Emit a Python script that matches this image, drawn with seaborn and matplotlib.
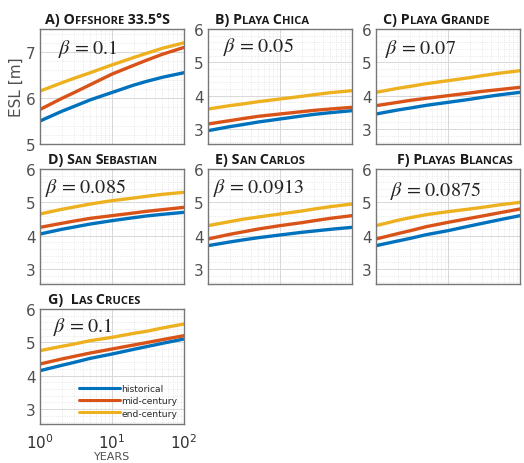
import numpy as np
import pandas as pd
import matplotlib
matplotlib.use("Agg")
import matplotlib.pyplot as plt
import seaborn as sns
from matplotlib.offsetbox import TextArea, HPacker, AnchoredOffsetbox

sns.set_style("white")
plt.rcParams['font.family'] = ['DejaVu Sans']
plt.rcParams['mathtext.fontset'] = 'stix'

years = [1, 2, 3, 5, 10, 20, 30, 50, 100]
scenarios = ["historical", "mid-century", "end-century"]
colors = ["#0072BD", "#D95319", "#EDB120"]

titles = ["A) Offshore 33.5°S", "B) Playa Chica", "C) Playa Grande",
          "D) San Sebastian", "E) San Carlos", "F) Playas Blancas",
          "G)  Las Cruces"]
betas = ["0.1", "0.05", "0.07", "0.085", "0.0913", "0.0875", "0.1"]

hist_A = [5.5, 5.71, 5.82, 5.96, 6.12, 6.28, 6.36, 6.45, 6.55]
mid_A = [5.75, 5.99, 6.12, 6.29, 6.52, 6.71, 6.82, 6.95, 7.1]
end_A = [6.15, 6.33, 6.43, 6.55, 6.72, 6.88, 6.97, 7.08, 7.2]

hist_B = [2.95, 3.07, 3.13, 3.21, 3.3, 3.39, 3.44, 3.49, 3.55]
mid_B = [3.15, 3.25, 3.31, 3.38, 3.45, 3.52, 3.56, 3.6, 3.65]
end_B = [3.6, 3.7, 3.75, 3.82, 3.9, 3.98, 4.03, 4.09, 4.15]

hist_C = [3.45, 3.57, 3.63, 3.71, 3.8, 3.89, 3.95, 4.02, 4.1]
mid_C = [3.7, 3.8, 3.86, 3.92, 4.0, 4.08, 4.13, 4.18, 4.25]
end_C = [4.1, 4.22, 4.28, 4.36, 4.45, 4.54, 4.6, 4.67, 4.75]

hist_D = [4.05, 4.19, 4.26, 4.35, 4.45, 4.54, 4.59, 4.64, 4.7]
mid_D = [4.25, 4.37, 4.44, 4.52, 4.6, 4.68, 4.73, 4.78, 4.85]
end_D = [4.65, 4.79, 4.86, 4.95, 5.05, 5.13, 5.18, 5.24, 5.3]

hist_E = [3.7, 3.81, 3.87, 3.94, 4.02, 4.1, 4.14, 4.19, 4.25]
mid_E = [3.9, 4.04, 4.11, 4.2, 4.3, 4.39, 4.45, 4.52, 4.6]
end_E = [4.3, 4.42, 4.49, 4.56, 4.65, 4.74, 4.8, 4.87, 4.95]

hist_F = [3.7, 3.84, 3.92, 4.03, 4.15, 4.29, 4.37, 4.47, 4.6]
mid_F = [3.9, 4.06, 4.15, 4.27, 4.4, 4.52, 4.59, 4.68, 4.8]
end_F = [4.3, 4.46, 4.54, 4.63, 4.72, 4.8, 4.85, 4.92, 5.0]

hist_G = [4.15, 4.31, 4.4, 4.52, 4.65, 4.79, 4.87, 4.97, 5.1]
mid_G = [4.35, 4.5, 4.58, 4.68, 4.8, 4.92, 4.99, 5.08, 5.2]
end_G = [4.75, 4.88, 4.95, 5.05, 5.15, 5.27, 5.33, 5.43, 5.55]

panels = [(hist_A, mid_A, end_A), (hist_B, mid_B, end_B), (hist_C, mid_C, end_C),
          (hist_D, mid_D, end_D), (hist_E, mid_E, end_E), (hist_F, mid_F, end_F),
          (hist_G, mid_G, end_G)]

W, H = 524, 464
fig = plt.figure(figsize=(W / 100, H / 100), dpi=100)

lefts = [40, 208, 376]
tops = [30, 170, 310]
aw, ah = 144, 115
title_dx = [5, 7, 7, 8, 7, 21, 8]
beta_dx = [18, 15, 9, 5, 5, 14, 13]
beta_dy = [8, 6, 8, 7, 7, 10, 6]

gray = "#505050"
TFONT = "Open Sans"


def smallcaps_box(s, big=10.3, small=8.0):
    parts = []
    cur, cur_low = "", None
    for ch in s:
        low = ch.islower()
        if cur_low is None or low == cur_low:
            cur += ch
        else:
            parts.append((cur, cur_low))
            cur = ch
        cur_low = low
    parts.append((cur, cur_low))
    boxes = []
    for txt, low in parts:
        boxes.append(TextArea(txt.upper(), textprops=dict(
            fontsize=small if low else big, fontweight="bold",
            family=TFONT, color="#1a1a1a")))
    return HPacker(children=boxes, align="baseline", pad=0, sep=0)


for i, (series, title, beta) in enumerate(zip(panels, titles, betas)):
    r, c = divmod(i, 3)
    l, t = lefts[c], tops[r]
    ax = fig.add_axes([l / W, 1 - (t + ah) / H, aw / W, ah / H])
    rows = []
    for name, vals in zip(scenarios, series):
        for x, v in zip(years, vals):
            rows.append({"year": x, "ESL": v, "scenario": name})
    df = pd.DataFrame(rows)
    sns.lineplot(data=df, x="year", y="ESL", hue="scenario", hue_order=scenarios,
                 palette=colors, linewidth=2.4, ax=ax, legend=(i == 6))
    ax.set_xscale("log")
    ax.set_xlim(1, 100)
    if i == 0:
        ax.set_ylim(5, 7.5)
        ax.set_yticks([5, 6, 7])
        ax.set_ylabel("ESL [m]", fontsize=11, color=gray, labelpad=2)
    else:
        ax.set_ylim(2.55, 6)
        ax.set_yticks([3, 4, 5, 6])
        ax.set_ylabel("")
    ax.minorticks_on()
    ax.grid(True, which="major", color="#d8d8d8", linewidth=0.7)
    ax.grid(True, which="minor", color="#e2e2e2", linewidth=0.6, linestyle=":")
    ax.tick_params(axis="y", which="major", labelsize=11, labelcolor=gray,
                   length=0, pad=3)
    ax.tick_params(which="minor", length=0)
    if i == 6:
        ax.set_xticks([1, 10, 100])
        ax.tick_params(axis="x", which="major", labelsize=11, labelcolor="#303030",
                       length=0, pad=6)
        ax.set_xlabel("YEARS", fontsize=8, color=gray, labelpad=0)
        leg = ax.legend(loc="lower right", fontsize=6.6, frameon=False,
                        handlelength=4.4, borderaxespad=0.3, labelspacing=0.35,
                        handletextpad=0.2)
        for line in leg.get_lines():
            line.set_linewidth(2.2)
    else:
        ax.set_xticklabels([])
        ax.tick_params(axis="x", which="both", length=0)
        ax.set_xlabel("")
    for sp in ax.spines.values():
        sp.set_color("#777777")
        sp.set_linewidth(1.0)

    box = smallcaps_box(title)
    anch = AnchoredOffsetbox(loc="lower left", child=box, pad=0, frameon=False,
                             bbox_to_anchor=(title_dx[i] / aw, 1 + 3 / ah),
                             bbox_transform=ax.transAxes, borderpad=0)
    ax.add_artist(anch)

    ax.text(beta_dx[i] / aw, 1 - beta_dy[i] / ah, r"$\beta$ = " + beta,
            transform=ax.transAxes, fontsize=14.5, family="STIXGeneral",
            va="top", ha="left", color="#222222")

fig.savefig("out.png", dpi=100, facecolor="white")
